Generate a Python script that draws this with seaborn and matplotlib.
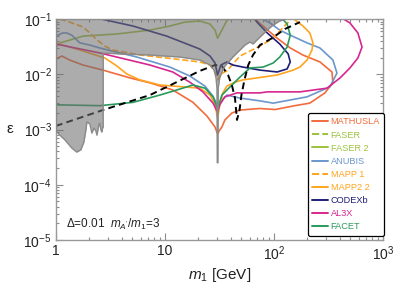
import matplotlib
matplotlib.use("Agg")
import matplotlib.pyplot as plt
import seaborn as sns
from matplotlib.lines import Line2D
from matplotlib.ticker import FixedLocator, FixedFormatter, LogLocator, NullFormatter

# ---- data ----
mathusla_m = [1.0, 1.135, 1.34, 1.77, 2.70, 4.77, 7.28, 11.8, 18.1, 24.3, 28.8, 30.4, 31.8, 33.3, 35.5,
              41.1, 48.8, 74.4, 102.7, 155, 213, 293, 347, 340, 264, 184, 141, 107, 83, 67]
mathusla_eps = [0.0189, 0.0214, 0.0181, 0.0147, 0.0119, 0.0086, 0.0070, 0.0052, 0.0031, 0.00175, 0.00111,
                0.00083, 0.00098, 0.00111, 0.00149, 0.00199, 0.00225, 0.0024, 0.0023, 0.0027, 0.0030,
                0.0046, 0.0070, 0.0110, 0.0167, 0.0223, 0.0299, 0.045, 0.069, 0.1]

al3x_m = [1.0, 2.53, 7.28, 11.8, 16.9, 22.3, 27.6, 30.4, 31.8, 35.5, 45.8, 74.4, 86.7, 173, 306, 404,
          497, 588, 642, 588, 497, 404]
al3x_eps = [0.0353, 0.0243, 0.0147, 0.0110, 0.0072, 0.0048, 0.0030, 0.00207, 0.0028, 0.0039, 0.0046,
            0.0046, 0.0048, 0.0048, 0.0056, 0.0086, 0.0130, 0.0197, 0.0311, 0.056, 0.085, 0.109]

anubis_m = [1.0, 1.16, 1.26, 1.40, 1.66, 2.05, 2.53, 5.53, 11.1, 16.9, 23.3, 27.6, 30.4, 33.3, 37.0,
            48.8, 74.4, 98.3, 201, 325, 378, 347, 264, 201, 141, 113, 91.9, 77.9]
anubis_eps = [0.049, 0.056, 0.056, 0.051, 0.037, 0.0338, 0.0299, 0.0205, 0.0135, 0.0093, 0.0061, 0.0040,
              0.0027, 0.0034, 0.0042, 0.0037, 0.0033, 0.0030, 0.0039, 0.0059, 0.0105, 0.0181, 0.0299,
              0.037, 0.051, 0.063, 0.085, 0.1]

mapp2_m = [1.0, 1.66, 2.81, 3.63, 4.48, 5.90, 8.98, 20.9, 25.9, 28.8, 30.4, 31.8, 34.0, 37.0, 43.9,
           51.9, 107, 150, 173, 201, 223, 228, 213, 184, 156]
mapp2_eps = [0.0368, 0.0275, 0.0197, 0.0141, 0.0101, 0.0079, 0.0064, 0.0056, 0.0042, 0.0028, 0.00161,
             0.0027, 0.0046, 0.0061, 0.0072, 0.0079, 0.0097, 0.0119, 0.0135, 0.0181, 0.0275, 0.0368,
             0.056, 0.075, 0.096]

mapp1_m = [1.09, 1.34, 1.77, 2.05, 2.38, 2.81, 3.33, 5.90, 10.4, 20.9, 25.9, 28.8, 30.4, 32.6, 37.0,
           48.8, 74.4, 95.9, 113, 141]
mapp1_eps = [0.1, 0.088, 0.072, 0.056, 0.042, 0.0324, 0.0275, 0.0223, 0.0197, 0.0167, 0.0147, 0.0110,
             0.0079, 0.0101, 0.0115, 0.0214, 0.0324, 0.0435, 0.0607, 0.096]

faser2_m = [1.0, 1.09, 1.77, 3.63, 7.28, 11.1, 15.3, 20.9, 25.9, 28.8, 30.4, 33.3, 36.3, 39.5]
faser2_eps = [0.0311, 0.0368, 0.049, 0.0536, 0.063, 0.0747, 0.088, 0.092, 0.081, 0.063, 0.045, 0.063,
              0.088, 0.109]

codexb_m = [2.38, 5.09, 10.4, 20.9, 25.9, 28.8, 30.4, 32.6, 37.0, 42.0, 51.9, 74.4, 107, 132, 141, 135,
            113, 86.7, 69.8, 65.5]
codexb_eps = [0.104, 0.0747, 0.049, 0.0286, 0.0214, 0.016, 0.0097, 0.0147, 0.0167, 0.0147, 0.0135,
              0.0119, 0.0110, 0.0125, 0.0167, 0.0233, 0.0353, 0.056, 0.088, 0.104]

facet_m = [1.0, 2.53, 5.09, 8.98, 13.7, 18.1, 23.3, 27.6, 30.4, 33.3, 39.5, 48.8, 60.2, 79.6, 98.3,
           113, 132, 141, 132, 118]
facet_eps = [0.0028, 0.0027, 0.0031, 0.0042, 0.0054, 0.0064, 0.0056, 0.0039, 0.0024, 0.0042, 0.0059,
             0.0089, 0.0130, 0.0135, 0.016, 0.0205, 0.0311, 0.051, 0.081, 0.104]

relic_m = [1.0, 2.70, 7.28, 20.9, 28.8, 33.3, 37.9, 41.1, 43.9, 45.8, 48.3, 50.3, 53.6, 58.1, 64.2,
           74.4, 95.9, 126, 173]
relic_eps = [1.16e-3, 2.25e-3, 4.2e-3, 0.0115, 0.0147, 0.0141, 0.0097, 0.0064, 0.0037, 0.00149,
             0.00225, 0.0042, 0.0079, 0.0147, 0.0223, 0.0338, 0.045, 0.066, 0.088]

# lower edge of the excluded (grey) region
grey_m = [1.0, 1.088, 1.209, 1.402, 1.558, 1.696, 1.807, 1.885, 1.925, 2.05, 2.14, 2.23, 2.33, 2.38,
          2.48, 2.53, 2.59, 2.64, 2.70, 2.715, 2.715, 3.87, 7.28, 13.7, 20.9, 25.9, 28.2, 29.4, 30.0,
          30.2, 30.6, 30.8, 31.8, 33.3, 35.5, 42.0, 48.8, 54.2, 60.2, 64.2, 69.8, 77.9, 86.7, 98.3,
          113, 129]
grey_eps = [9.4e-4, 7.9e-4, 6.5e-4, 4.6e-4, 3.9e-4, 4.3e-4, 5.9e-4, 9.8e-4, 1.37e-3, 1.26e-3, 8.6e-4,
            1.06e-3, 9.4e-4, 7.9e-4, 1.21e-3, 1.31e-3, 9.8e-4, 9.0e-4, 1.11e-3, 1.11e-3, 0.0243, 0.0233,
            0.0223, 0.0205, 0.0181, 0.0147, 0.0119, 0.0086, 0.0056, 2.5e-4, 2.5e-4, 0.0056, 0.0086,
            0.0110, 0.0141, 0.0205, 0.0275, 0.0338, 0.0384, 0.0353, 0.0417, 0.0513, 0.063, 0.078,
            0.092, 0.1]

xticks = [1, 10, 100, 1000]
xtick_labels = ["1", "10", "$10^2$", "$10^3$"]
yticks = [1e-5, 1e-4, 1e-3, 1e-2, 1e-1]
ytick_labels = ["$10^{-5}$", "$10^{-4}$", "$10^{-3}$", "$10^{-2}$", "$10^{-1}$"]

curves = [
    ("MATHUSLA", mathusla_m, mathusla_eps, "#f26b3c", "-"),
    ("FASER", [], [], "#9cc23e", "--"),
    ("FASER 2", faser2_m, faser2_eps, "#9cc23e", "-"),
    ("ANUBIS", anubis_m, anubis_eps, "#6b96cb", "-"),
    ("MAPP 1", mapp1_m, mapp1_eps, "#ffa41f", "--"),
    ("MAPP2 2", mapp2_m, mapp2_eps, "#ffa41f", "-"),
    ("CODEXb", codexb_m, codexb_eps, "#1e1e78", "-"),
    ("AL3X", al3x_m, al3x_eps, "#d8268f", "-"),
    ("FACET", facet_m, facet_eps, "#2a9a5c", "-"),
]

sns.set_style("ticks")
plt.rcParams["font.family"] = ["Liberation Sans", "DejaVu Sans"]
plt.rcParams["mathtext.fontset"] = "custom"
plt.rcParams["mathtext.rm"] = "Liberation Sans"
plt.rcParams["mathtext.it"] = "Liberation Sans:italic"

fig = plt.figure(figsize=(3.99, 2.84), dpi=100)
ax = fig.add_axes([0.140, 0.155, 0.820, 0.778])
ax.set_xscale("log")
ax.set_yscale("log")

handles = []
for name, m, eps, col, ls in curves:
    if len(m):
        sns.lineplot(x=m, y=eps, sort=False, estimator=None, color=col, linestyle=ls,
                     lw=1.2, ax=ax, zorder=2)
    handles.append(Line2D([], [], color=col, ls=ls, lw=1.4, label=name))

sns.lineplot(x=relic_m, y=relic_eps, sort=False, estimator=None, color="black",
             linestyle=(0, (3.5, 2.2)), lw=1.4, ax=ax, zorder=2.5)

# translucent excluded region over the curves
ax.fill_between(grey_m, grey_eps, 0.1, facecolor="#707070", alpha=0.58, lw=0, zorder=3)
ax.plot(grey_m, grey_eps, color="#8a8a8a", lw=1.0, zorder=3.5)

ax.set_xlim(1, 1000)
ax.set_ylim(1e-5, 0.1)

ax.xaxis.set_major_locator(FixedLocator(xticks))
ax.xaxis.set_major_formatter(FixedFormatter(xtick_labels))
ax.yaxis.set_major_locator(FixedLocator(yticks))
ax.yaxis.set_major_formatter(FixedFormatter(ytick_labels))
for axis in (ax.xaxis, ax.yaxis):
    axis.set_minor_locator(LogLocator(base=10, subs=range(2, 10), numticks=20))
    axis.set_minor_formatter(NullFormatter())

ax.tick_params(which="both", direction="in", top=True, right=True, color="#8c8c8c",
               labelsize=10, labelcolor="#222222", width=0.8, pad=3)
ax.tick_params(which="major", length=5)
ax.tick_params(which="minor", length=2.5)
for sp in ax.spines.values():
    sp.set_color("#9a9a9a")
    sp.set_linewidth(1.0)

ax.set_xlabel("$m_1$ [GeV]", fontsize=11, color="#222222", labelpad=2)
ax.set_ylabel("ε", fontsize=11, color="#222222", rotation=0)
ax.yaxis.set_label_coords(-0.14, 0.47)

ax.text(0.03, 0.07, "$\\Delta$=0.01  $m_{A'}/m_1$=3", transform=ax.transAxes, fontsize=8.5,
        color="#222222", va="center", ha="left")

leg = ax.legend(handles=handles, loc="lower right", bbox_to_anchor=(1.003, 0.02), fontsize=6.6,
                labelcolor="linecolor", frameon=True, fancybox=True, framealpha=1,
                edgecolor="black", handlelength=1.7, handletextpad=0.3, labelspacing=0.45,
                borderpad=0.45, borderaxespad=0)
leg.get_frame().set_linewidth(0.9)
leg.set_zorder(5)

fig.savefig("out.png", dpi=100)
